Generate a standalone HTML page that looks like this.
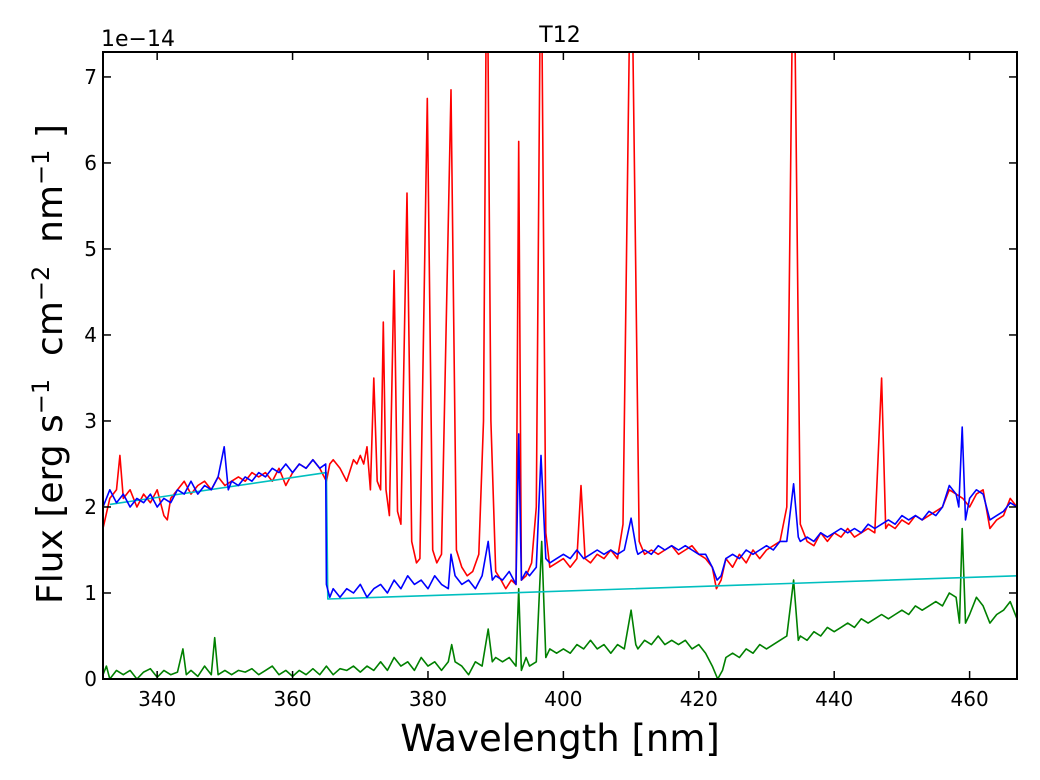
<!DOCTYPE html>
<html><head><meta charset="utf-8"><style>
body{margin:0;background:#fff;width:1040px;height:780px;overflow:hidden}
svg{display:block;font-family:"DejaVu Sans","Liberation Sans",sans-serif}
</style></head><body>
<svg id="chart" width="1040" height="780" xmlns="http://www.w3.org/2000/svg">
<defs><clipPath id="plotclip"><rect x="103" y="52" width="914" height="627"/></clipPath></defs>
<rect x="0" y="0" width="1040" height="780" fill="#fff"/>
<g id="series" clip-path="url(#plotclip)"></g>
<g id="axes"></g>
<text x="560" y="42" text-anchor="middle" font-size="22">T12</text>
<text x="101" y="46" font-size="22">1e−14</text>
<text x="560" y="751" text-anchor="middle" font-size="37">Wavelength [nm]</text>
<text transform="translate(62,364) rotate(-90)" text-anchor="middle" font-size="36" xml:space="preserve">Flux [erg s<tspan dy="-13" font-size="24">−1</tspan><tspan dy="13">  cm</tspan><tspan dy="-13" font-size="24">−2</tspan><tspan dy="13">  nm</tspan><tspan dy="-13" font-size="24">−1</tspan><tspan dy="13"> ]</tspan></text>
</svg>
<script>
const xTicks=[340,360,380,400,420,440,460];
const yTicks=[0,1,2,3,4,5,6,7];
const redX=[332,333,334,334.5,335,336,337,338,339,340,341,341.5,342,343,344,345,346,347,348,349,350,351,352,353,354,355,356,357,358,359,360,361,362,363,364,365,365.5,366,367,368,369,369.5,370,370.5,371,371.5,372,372.5,373,373.4,373.8,374.3,375,375.5,376,376.9,377.6,378.3,378.8,379.9,380.7,381.3,382,383.4,384.2,385,385.8,386.6,387.5,388.2,388.7,389.3,390,390.8,391.5,392.3,393,393.4,393.8,394.5,395.3,396,396.7,397.4,398,399,400,401,402,402.6,403.2,404,405,406,407,408,408.8,410,411.2,412,413,414,415,416,417,418,419,420,421,422,422.6,423.3,424,425,426,427,428,429,430,431,432,433,434,435,436,437,438,439,440,441,442,443,444,445,446,447,447.6,448,449,450,451,452,453,454,455,456,457,458,459,460,461,462,463,464,465,466,467];
const redY=[1.75,2.1,2.2,2.6,2.1,2.2,2.0,2.15,2.05,2.2,1.9,1.85,2.1,2.2,2.3,2.15,2.25,2.3,2.2,2.35,2.25,2.3,2.35,2.3,2.4,2.35,2.4,2.3,2.45,2.25,2.4,2.5,2.45,2.55,2.45,2.3,2.5,2.55,2.45,2.3,2.55,2.5,2.6,2.5,2.7,2.2,3.5,2.3,2.2,4.15,2.2,1.9,4.75,1.95,1.8,5.65,1.6,1.35,1.4,6.75,1.5,1.35,1.45,6.85,1.5,1.3,1.2,1.25,1.45,3.0,9,3.0,1.25,1.15,1.05,1.15,1.1,6.25,1.15,1.2,1.35,2.0,9,1.7,1.3,1.35,1.4,1.3,1.4,2.25,1.4,1.35,1.45,1.4,1.5,1.4,1.8,9,1.6,1.45,1.5,1.45,1.5,1.55,1.45,1.5,1.55,1.45,1.4,1.3,1.05,1.15,1.4,1.3,1.45,1.35,1.5,1.4,1.5,1.55,1.6,2.0,9,1.8,1.6,1.55,1.7,1.6,1.7,1.65,1.75,1.65,1.7,1.75,1.7,3.5,1.75,1.8,1.75,1.85,1.8,1.9,1.85,1.9,1.95,2.0,2.2,2.15,2.1,2.0,2.15,2.2,1.75,1.85,1.9,2.1,2.0];
const blueX=[332,333,334,335,336,337,338,339,340,341,342,343,344,345,346,347,348,349,349.9,350.5,351,352,353,354,355,356,357,358,359,360,361,362,363,364,364.9,365,365.5,366,367,368,369,370,371,372,373,374,375,376,377,378,379,380,381,382,383,383.4,384,385,386,387,388,388.9,389.5,390,391,392,393,393.4,393.8,394.5,395,396,396.7,397.4,398,399,400,401,402,403,404,405,406,407,408,409,410,410.8,411,412,413,414,415,416,417,418,419,420,421,422,422.7,423.3,424,425,426,427,428,429,430,431,432,433,434,434.7,435,436,437,438,439,440,441,442,443,444,445,446,447,448,449,450,451,452,453,454,455,456,457,458,458.4,458.9,459.4,460,461,462,463,464,465,466,467];
const blueY=[2.0,2.2,2.05,2.15,2.0,2.1,2.05,2.15,2.0,2.1,2.05,2.2,2.15,2.3,2.15,2.25,2.2,2.35,2.7,2.2,2.3,2.25,2.35,2.3,2.4,2.35,2.45,2.4,2.5,2.4,2.5,2.45,2.55,2.45,2.5,1.1,0.95,1.05,0.95,1.05,1.0,1.1,0.95,1.05,1.1,1.0,1.15,1.05,1.2,1.1,1.15,1.05,1.2,1.1,1.05,1.45,1.2,1.1,1.15,1.05,1.2,1.6,1.15,1.2,1.15,1.25,1.1,2.85,1.15,1.25,1.2,1.3,2.6,1.4,1.35,1.4,1.45,1.4,1.5,1.4,1.45,1.5,1.45,1.5,1.45,1.5,1.87,1.5,1.45,1.5,1.45,1.55,1.5,1.55,1.5,1.55,1.5,1.45,1.45,1.3,1.15,1.2,1.4,1.45,1.4,1.5,1.45,1.5,1.55,1.5,1.6,1.6,2.27,1.65,1.6,1.65,1.6,1.7,1.65,1.7,1.75,1.7,1.75,1.7,1.8,1.75,1.8,1.85,1.8,1.9,1.85,1.9,1.85,1.95,1.9,2.0,2.25,2.15,2.0,2.93,1.85,2.1,2.2,2.15,1.85,1.9,1.95,2.05,2.0];
const greenX=[332,332.5,333,334,335,336,337,338,339,340,341,342,343,343.8,344.3,345,346,347,348,348.5,349,350,351,352,353,354,355,356,357,358,359,360,361,362,363,364,365,366,367,368,369,370,371,372,373,374,375,376,377,378,379,380,381,382,383,383.5,384,385,386,387,388,388.9,389.5,390,391,392,393,393.4,393.8,394.5,395,396,396.8,397.4,398,399,400,401,402,403,404,405,406,407,408,409,410,410.7,411,412,413,414,415,416,417,418,419,420,421,422,422.8,423.5,424,425,426,427,428,429,430,431,432,433,434,434.7,435,436,437,438,439,440,441,442,443,444,445,446,447,448,449,450,451,452,453,454,455,456,457,458,458.5,458.9,459.4,460,461,462,463,464,465,466,467];
const greenY=[0.05,0.15,0.0,0.1,0.05,0.1,0.0,0.08,0.12,0.02,0.1,0.05,0.08,0.35,0.05,0.1,0.03,0.15,0.05,0.48,0.05,0.1,0.05,0.1,0.08,0.12,0.05,0.1,0.15,0.05,0.1,0.03,0.1,0.05,0.12,0.05,0.15,0.05,0.12,0.1,0.15,0.08,0.15,0.1,0.2,0.1,0.25,0.15,0.2,0.1,0.25,0.15,0.2,0.1,0.2,0.4,0.2,0.15,0.05,0.2,0.15,0.58,0.2,0.25,0.2,0.25,0.15,1.05,0.1,0.25,0.15,0.2,1.6,0.25,0.35,0.3,0.35,0.3,0.4,0.35,0.45,0.35,0.4,0.3,0.4,0.35,0.8,0.4,0.35,0.45,0.4,0.5,0.4,0.45,0.4,0.45,0.35,0.4,0.3,0.15,0.0,0.1,0.25,0.3,0.25,0.35,0.3,0.4,0.35,0.4,0.45,0.5,1.15,0.45,0.5,0.45,0.55,0.5,0.6,0.55,0.6,0.65,0.6,0.7,0.65,0.7,0.75,0.7,0.75,0.8,0.75,0.85,0.8,0.85,0.9,0.85,1.0,0.95,0.65,1.75,0.65,0.75,0.95,0.85,0.65,0.75,0.8,0.9,0.7];
const cyanX=[333,365,365.2,467];
const cyanY=[2.03,2.4,0.93,1.2];

const X0=332,X1=467,Y0=0,Y1=7.29;
const L=103,R=1017,T=52,B=679;
const sx=v=>L+(v-X0)/(X1-X0)*(R-L);
const sy=v=>B-(v-Y0)/(Y1-Y0)*(B-T);
const NS='http://www.w3.org/2000/svg';
const sg=document.getElementById('series');
const ag=document.getElementById('axes');
function line(xs,ys,color,name){
  const p=document.createElementNS(NS,'polyline');
  p.setAttribute('points',xs.map((x,i)=>sx(x).toFixed(1)+','+sy(ys[i]).toFixed(1)).join(' '));
  p.setAttribute('fill','none');p.setAttribute('stroke',color);p.setAttribute('stroke-width','1.6');
  p.setAttribute('stroke-linejoin','round');
  
  
  sg.appendChild(p);
}
line(redX,redY,'#ff0000','red-spectrum-line');
line(greenX,greenY,'#008000','green-spectrum-line');
line(cyanX,cyanY,'#00bfbf','cyan-continuum-line');
line(blueX,blueY,'#0000ff','blue-spectrum-line');

const frame=document.createElementNS(NS,'rect');
frame.setAttribute('x',L);frame.setAttribute('y',T);frame.setAttribute('width',R-L);frame.setAttribute('height',B-T);
frame.setAttribute('fill','none');frame.setAttribute('stroke','#000');frame.setAttribute('stroke-width','2');


ag.appendChild(frame);
function seg(x1,y1,x2,y2){
  const l=document.createElementNS(NS,'line');
  l.setAttribute('x1',x1);l.setAttribute('y1',y1);l.setAttribute('x2',x2);l.setAttribute('y2',y2);
  l.setAttribute('stroke','#000');l.setAttribute('stroke-width','1.5');
  
  
  ag.appendChild(l);
}
function txt(x,y,s,anchor,name){
  const t=document.createElementNS(NS,'text');
  t.setAttribute('x',x);t.setAttribute('y',y);t.setAttribute('text-anchor',anchor);t.setAttribute('font-size','20');
  t.textContent=s;
  
  
  ag.appendChild(t);
}
xTicks.forEach(v=>{const x=sx(v);seg(x,B,x,B-8);seg(x,T,x,T+8);txt(x,B+27,String(v),'middle','x-tick-label');});
yTicks.forEach(v=>{const y=sy(v);seg(L,y,L+8,y);seg(R,y,R-8,y);txt(L-6,y+7,String(v),'end','y-tick-label');});
</script>
</body></html>
